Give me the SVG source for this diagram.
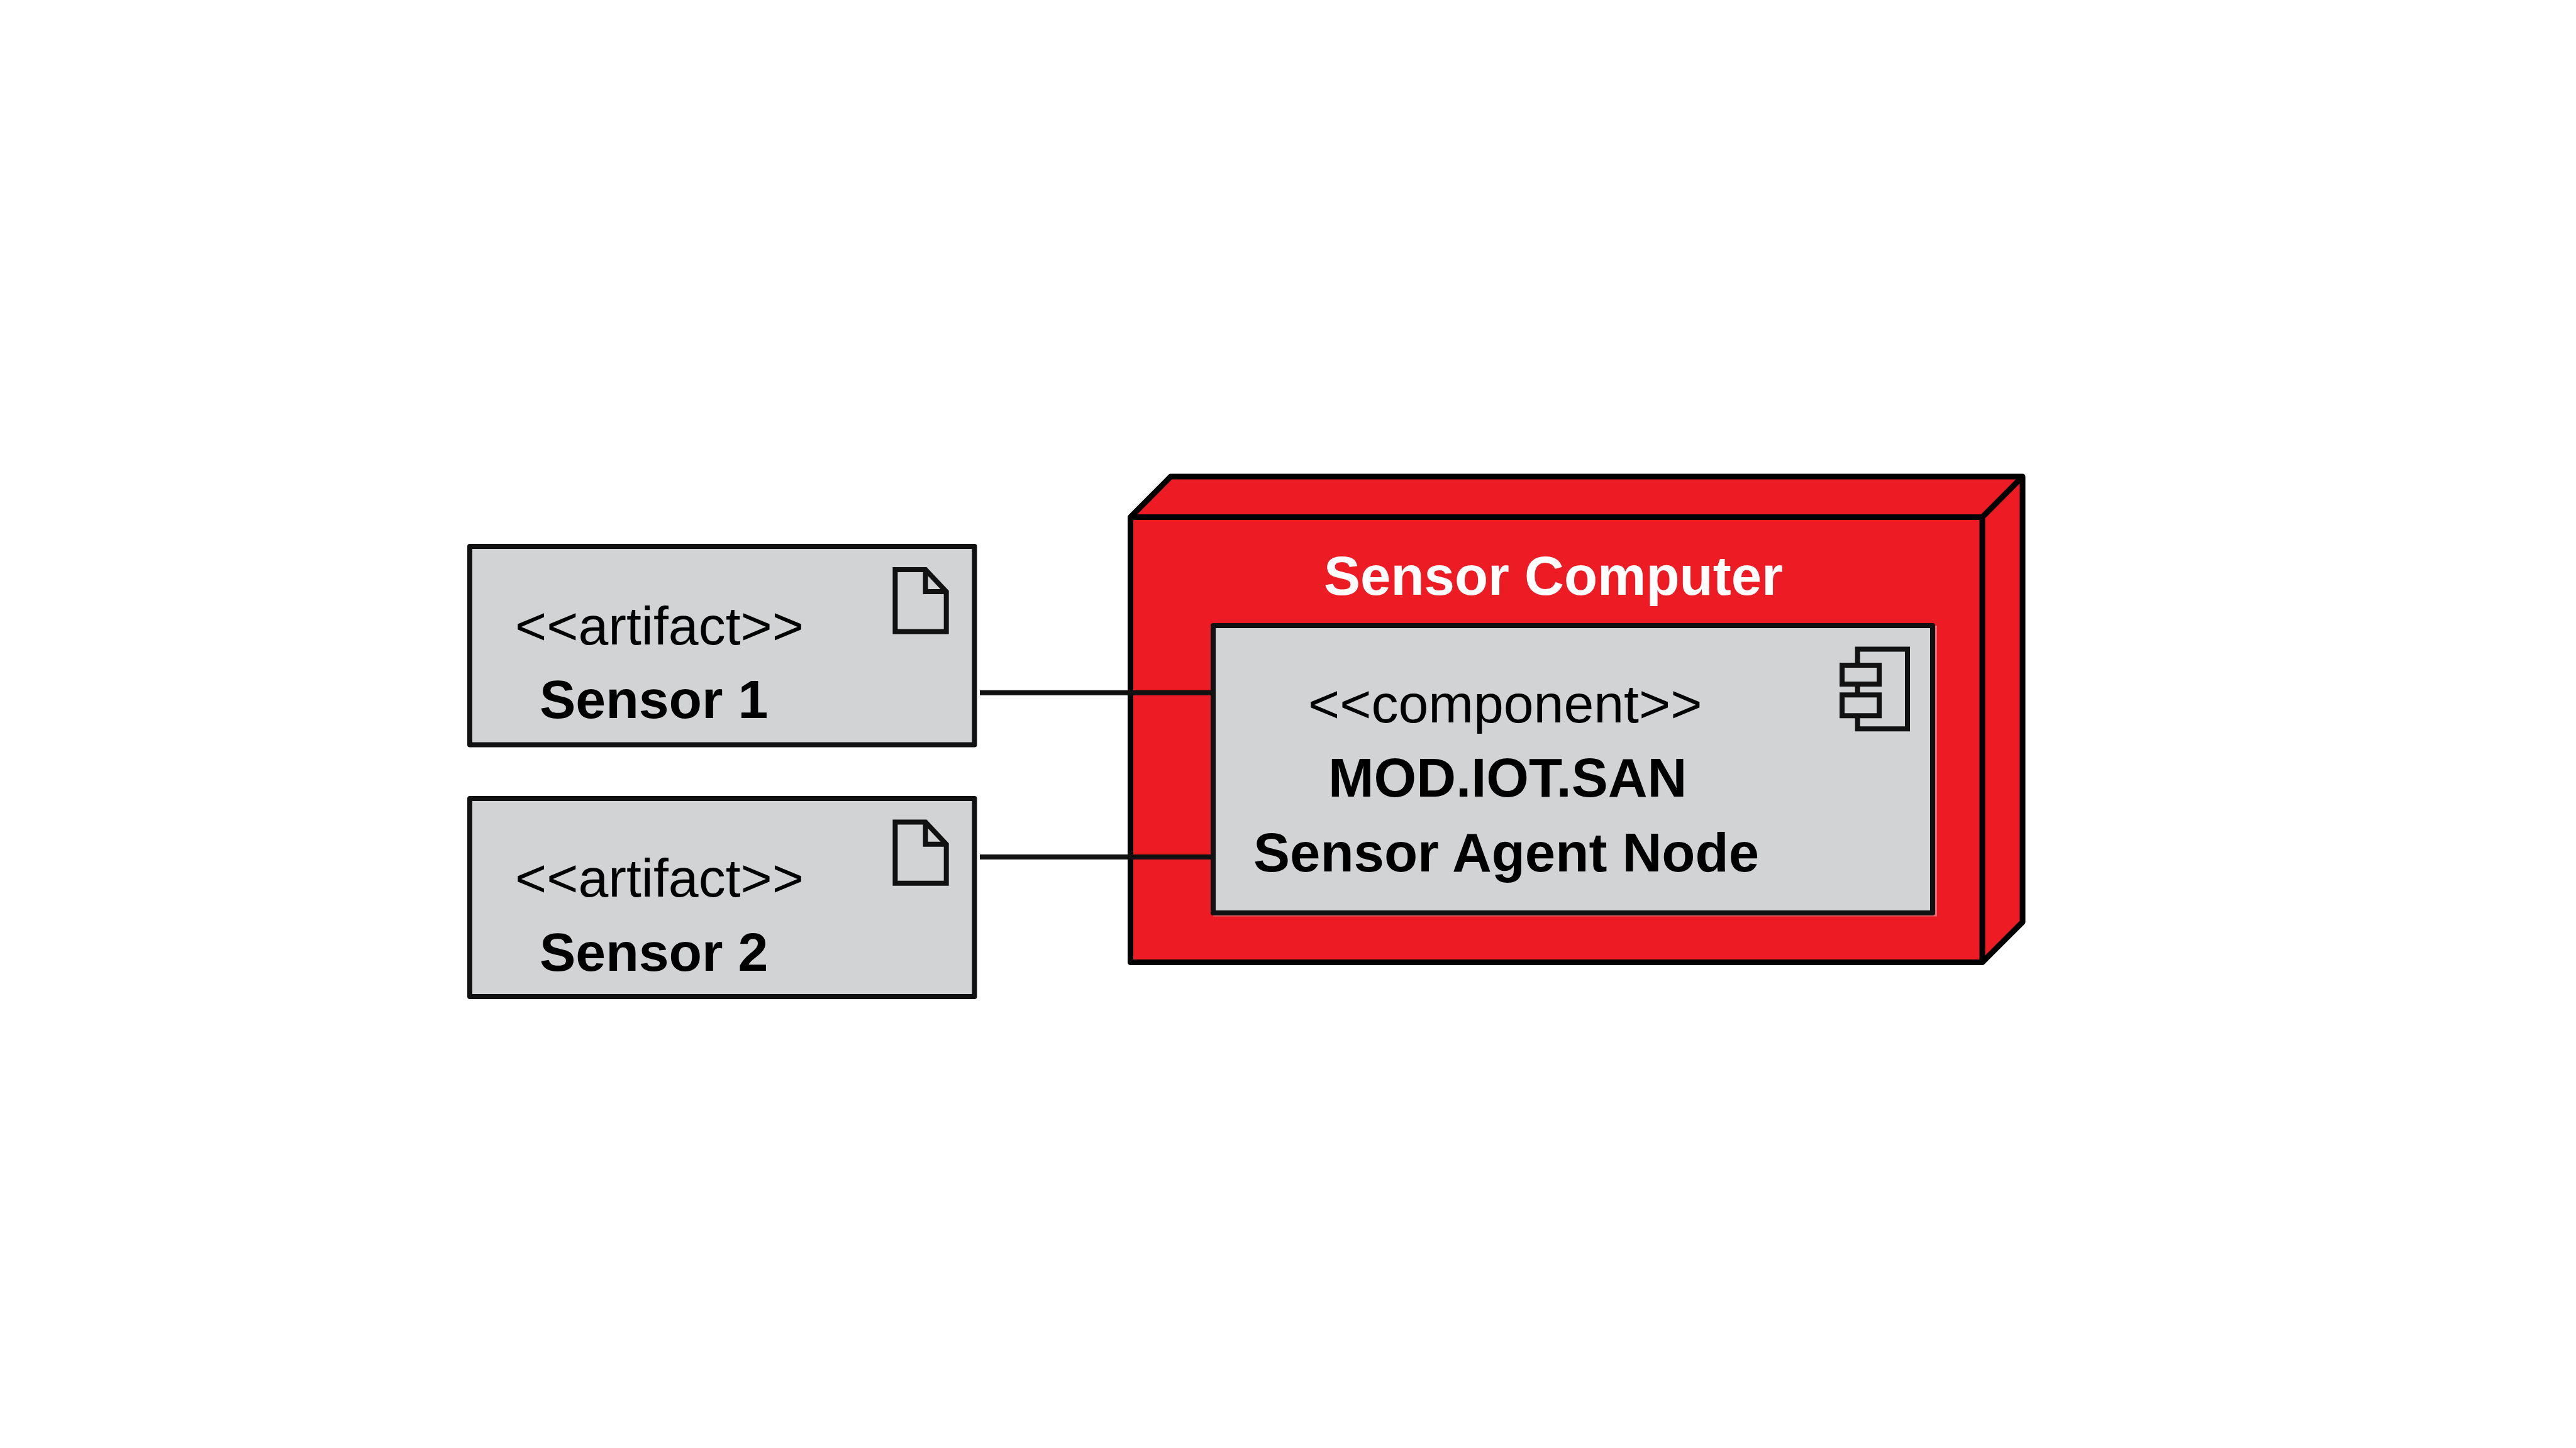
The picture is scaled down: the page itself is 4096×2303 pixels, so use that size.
<svg xmlns="http://www.w3.org/2000/svg" width="4096" height="2303" viewBox="0 0 4096 2303">
<style>
.box{fill:#d1d3d4;stroke:#111;stroke-width:8;stroke-linejoin:round}
.red{fill:#ed1c24;stroke:#000;stroke-width:9;stroke-linejoin:round}
.ico{fill:#d1d3d4;stroke:#111;stroke-width:8;stroke-linejoin:miter}
.line{fill:none;stroke:#111;stroke-width:8}
text{font-family:"Liberation Sans",Arial,sans-serif;font-size:86px;fill:#000}
.b{font-weight:700;font-size:87px}
.s{font-size:86px}
.w{fill:#fff}
</style>
<rect width="4096" height="2303" fill="#fff"/>
<g id="sensor-computer">
<path class="red" d="M1797.5 822.5L1861.5 758H3216V1466.5L3152 1530.5H1797.5Z"/>
<path class="line" style="stroke:#000;stroke-width:9" d="M1797.5 822.5H3152V1530.5M3152 822.5L3216 758"/>
<text class="b w" x="2105" y="945.6">Sensor Computer</text>
</g>
<g id="sensor-agent-node">
<path d="M3078.5 995V1456H1929" fill="none" stroke="#ee6a70" stroke-width="3"/>
<rect class="box" x="1929" y="995" width="1144" height="457"/>
<text x="2080" y="1149">&lt;&lt;component&gt;&gt;</text>
<text class="b" x="2112" y="1266.5">MOD.IOT.SAN</text>
<text class="b" x="1993" y="1386">Sensor Agent Node</text>
<path class="ico" d="M2953.6 1058V1032.6H3033V1159.3H2953.6V1138M2953.6 1088V1105.3"/>
<rect class="ico" x="2929" y="1058" width="59" height="30"/>
<rect class="ico" x="2929" y="1105.3" width="59" height="33"/>
</g>
<g id="sensor-1">
<rect class="box" x="747" y="869" width="802.5" height="315.5"/>
<text x="819" y="1024.7">&lt;&lt;artifact&gt;&gt;</text>
<text class="b s" x="858" y="1141.7">Sensor 1</text>
<path class="ico" d="M1423.4 906H1471.6L1504.7 941V1004.6H1423.4Z"/>
<path class="line" d="M1471.6 906V941H1504.7"/>
</g>
<g id="sensor-2">
<rect class="box" x="747" y="1270" width="802.5" height="315"/>
<text x="819" y="1426">&lt;&lt;artifact&gt;&gt;</text>
<text class="b s" x="858" y="1543.6">Sensor 2</text>
<path class="ico" d="M1423.4 1307.5H1471.6L1504.7 1342.8V1404.7H1423.4Z"/>
<path class="line" d="M1471.6 1307.5V1342.8H1504.7"/>
</g>
<g id="connectors">
<line class="line" x1="1558" y1="1101.7" x2="1929" y2="1101.7"/>
<line class="line" x1="1558" y1="1363" x2="1929" y2="1363"/>
</g>
</svg>
